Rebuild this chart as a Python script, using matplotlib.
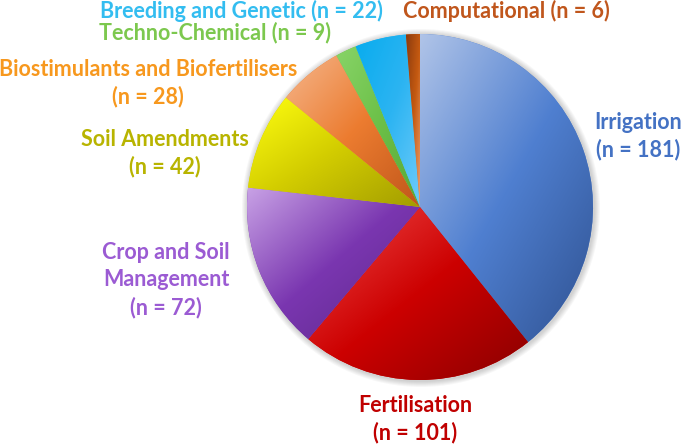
import matplotlib.pyplot as plt
import numpy as np
from matplotlib.colors import LinearSegmentedColormap
from matplotlib.patches import Circle

plt.rcParams['font.family'] = ['Lato', 'DejaVu Sans']

# data (clockwise from 12 o'clock)
categories = ['Irrigation', 'Fertilisation', 'Crop and Soil\nManagement', 'Soil Amendments',
              'Biostimulants and Biofertilisers', 'Techno-Chemical', 'Breeding and Genetic',
              'Computational']
counts = [181, 101, 72, 42, 28, 9, 22, 6]

# gradient stops per slice: light -> mid -> dark (top-left to bottom-right)
grad_colors = [
    ['#b0c4e8', '#4f7fd0', '#2f5190'],
    ['#f04a4a', '#cc0000', '#8a0000'],
    ['#c9a3e6', '#7a36b0', '#5c2888'],
    ['#ffff10', '#d2cc00', '#a39d00'],
    ['#f5b68c', '#ec7c30', '#c0561a'],
    ['#88d468', '#6cc048', '#58a838'],
    ['#08acee', '#2cb4f2', '#70ccfa'],
    ['#8a3a0e', '#c55a11', '#f0a878'],
]
text_colors = ['#4472c4', '#c00000', '#9b5bd3', '#b8b400', '#f7981e', '#7cc84e', '#33bdf0', '#c0561c']

# label anchor positions (pixels, from top-left)
label_pos = [(638, 136), (415, 419), (166, 280), (165, 153), (148, 83), (215, 33), (241, 11), (506, 11)]
one_line = [False, False, False, False, False, True, True, True]

W, H = 685, 444
fig = plt.figure(figsize=(W / 100, H / 100), dpi=100)
ax = fig.add_axes([0, 0, 1, 1])

cx, cy, r = 420, H - 207, 173

# soft shadow
for k in range(6):
    ax.add_patch(Circle((cx + 1, cy - 1), r + 1 + k, color='#000000', alpha=0.03, lw=0, zorder=0))

wedges, _ = ax.pie(counts, radius=r, center=(cx, cy), startangle=90, counterclock=False,
                   frame=True, wedgeprops=dict(linewidth=0))

for w, cols in zip(wedges, grad_colors):
    v = w.get_path().vertices
    x0, x1 = v[:, 0].min(), v[:, 0].max()
    y0, y1 = v[:, 1].min(), v[:, 1].max()
    cmap = LinearSegmentedColormap.from_list('g', cols)
    xs = np.linspace(0, 1, 200)
    ys = np.linspace(0, 1, 200)
    U, V = np.meshgrid(xs, ys)  # V: 0 at bottom
    t = (U + (1 - V)) / 2
    im = ax.imshow(t, cmap=cmap, extent=(x0, x1, y0, y1), origin='lower',
                   interpolation='bilinear', vmin=0, vmax=1, zorder=2, aspect='auto')
    im.set_clip_path(w)
    w.set_facecolor(cols[1])

for name, n, (lx, ly), col, single in zip(categories, counts, label_pos, text_colors, one_line):
    s = f'{name} (n = {n})' if single else f'{name}\n(n = {n})'
    ax.text(lx, H - ly, s, ha='center', va='center', fontsize=15.5, fontweight='bold',
            color=col, linespacing=1.35, zorder=5)

ax.set_xlim(0, W)
ax.set_ylim(0, H)
ax.set_aspect('equal')
ax.axis('off')

plt.savefig('out.png', dpi=100)
